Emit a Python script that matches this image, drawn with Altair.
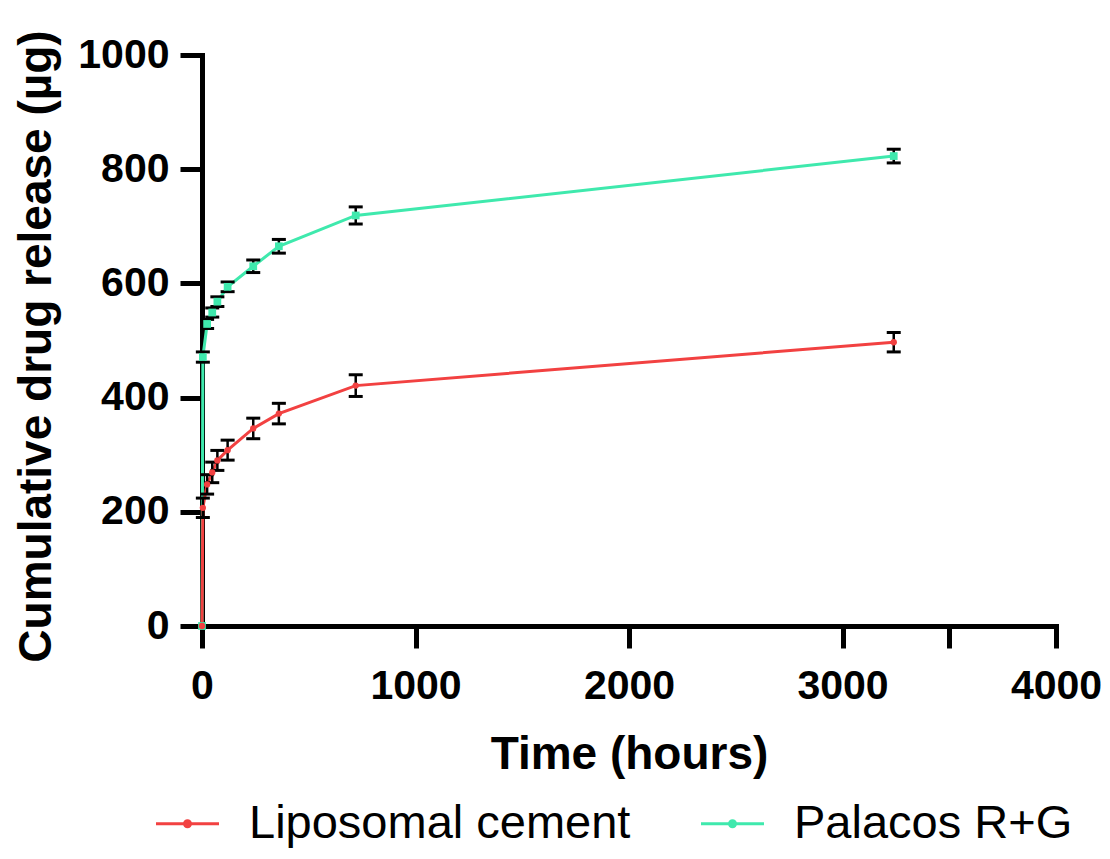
import altair as alt
import pandas as pd

# ---- data ----
time_h = [0, 4, 24, 48, 72, 120, 240, 360, 720, 3240]
lipo_mean = [0, 207, 248, 269, 290, 308, 346, 372, 421, 497]
lipo_sd = [0, 17, 17, 18, 17.5, 17.5, 18, 18, 19, 17]
pal_mean = [0, 471, 529, 549, 568, 594, 630, 665, 719, 823]
pal_sd = [0, 9, 8, 8, 8.5, 8.5, 11, 12, 15, 12]
series = ["Liposomal cement", "Palacos R+G"]
colors = ["#F24141", "#3FE9AD"]
x_ticks = [0, 1000, 2000, 3000, 3500, 4000]
y_ticks = [0, 200, 400, 600, 800, 1000]

rows = []
for name, means, sds in [(series[0], lipo_mean, lipo_sd), (series[1], pal_mean, pal_sd)]:
    for t, v, e in zip(time_h, means, sds):
        rows.append({"series": name, "time": t, "value": v, "lo": v - e, "hi": v + e, "sd": e})
df = pd.DataFrame(rows)

FONT = "Liberation Sans"
# legend symbol: a line with a small dot in the middle
sym_path = ("M-3.15,0H3.15M-0.3,0A0.3,0.3,0,1,0,0.3,0"
            "A0.3,0.3,0,1,0,-0.3,0Z")

x_enc = alt.X(
    "time:Q",
    scale=alt.Scale(domain=[0, 4000], nice=False),
    axis=alt.Axis(
        values=x_ticks, format="d", labelFlush=False,
        labelExpr="datum.value == 3500 ? '' : datum.label",
        title="Time (hours)", titleX=427, titleY=142,
        titleBaseline="alphabetic", labelPadding=18,
    ),
)
y_enc = alt.Y(
    "value:Q",
    scale=alt.Scale(domain=[0, 1000], nice=False),
    axis=alt.Axis(
        values=y_ticks, format="d", labelFlush=False,
        title="Cumulative drug release (µg)", titleX=-152, titleY=291,
        titleAngle=-90, titleAlign="center", titleBaseline="alphabetic",
        labelPadding=11,
    ),
)
color_enc = alt.Color(
    "series:N",
    scale=alt.Scale(domain=series, range=colors),
    legend=alt.Legend(
        orient="none", legendX=-38, legendY=745, direction="horizontal",
        title=None, labelFont=FONT, labelFontSize=47, labelColor="black",
        symbolType=sym_path, symbolSize=400, symbolStrokeWidth=3,
        labelOffset=38, columnPadding=64, padding=0, labelLimit=0,
        symbolOpacity=1,
    ),
)

base = alt.Chart(df)

line_pal = base.transform_filter(alt.datum.series == series[1]).mark_line(
    strokeWidth=3).encode(x=x_enc, y=y_enc, color=color_enc)
line_lip = base.transform_filter(alt.datum.series == series[0]).mark_line(
    strokeWidth=3).encode(x=x_enc, y=y_enc, color=color_enc)

err = base.transform_filter(alt.datum.sd > 0).mark_rule(
    color="black", strokeWidth=2.5).encode(
    x="time:Q", y="lo:Q", y2="hi:Q")
caps = base.transform_filter(alt.datum.sd > 0).transform_fold(
    ["lo", "hi"], as_=["end", "yv"]).mark_tick(
    orient="horizontal", size=14, thickness=3, color="black", opacity=1).encode(
    x="time:Q", y="yv:Q")

pts_pal = base.transform_filter(alt.datum.series == series[1]).mark_point(
    shape="square", filled=True, size=60, opacity=1).encode(
    x=x_enc, y=y_enc, color=color_enc)
pts_lip = base.transform_filter(alt.datum.series == series[0]).mark_point(
    shape="circle", filled=True, size=40, opacity=1).encode(
    x=x_enc, y=y_enc, color=color_enc)

chart = alt.layer(line_pal, line_lip, err, caps, pts_pal, pts_lip).properties(
    width=854, height=571,
    autosize=alt.AutoSizeParams(type="none"),
    padding={"left": 194, "top": 47, "right": 46, "bottom": 225},
    background="white",
).configure_view(stroke=None).configure_axis(
    grid=False, domainColor="black", domainWidth=5, tickColor="black",
    tickWidth=5, tickSize=22, labelColor="black", labelFont=FONT,
    labelFontSize=41, labelFontWeight="bold", titleColor="black",
    titleFont=FONT, titleFontSize=46, titleFontWeight="bold",
    domainCap="square",
)

chart.save("out.html", embed_options={"renderer": "svg", "actions": False})
